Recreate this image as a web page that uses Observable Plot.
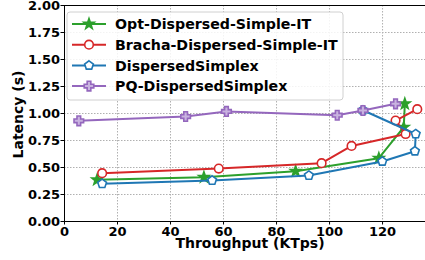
<!DOCTYPE html>
<html>
<head>
<meta charset="utf-8">
<script src="https://cdn.jsdelivr.net/npm/d3@7"></script>
<script src="https://cdn.jsdelivr.net/npm/@observablehq/plot@0.6"></script>
<style>
  html, body { margin: 0; padding: 0; background: white; }
</style>
</head>
<body>
<div id="chart"></div>
<script>
// ---- data ----
const seriesNames = ["Opt-Dispersed-Simple-IT", "Bracha-Dispersed-Simple-IT", "DispersedSimplex", "PQ-DispersedSimplex"];
const seriesColors = ["#2ca02c", "#d62728", "#1f77b4", "#9467bd"];

const optX = [12.3, 52.6, 87.2, 118.6, 128.0, 128.4];
const optY = [0.386, 0.41, 0.466, 0.586, 0.873, 1.09];

const brachaX = [14.2, 58.2, 97.0, 108.3, 128.7, 124.9, 133.1];
const brachaY = [0.447, 0.49, 0.54, 0.70, 0.81, 0.935, 1.04];

const dsX = [14.2, 55.7, 92.2, 119.9, 132.2, 132.5, 112.6];
const dsY = [0.349, 0.38, 0.426, 0.556, 0.651, 0.81, 1.03];

const pqX = [5.4, 45.7, 61.1, 102.9, 112.6, 124.9];
const pqY = [0.932, 0.972, 1.019, 0.984, 1.028, 1.09];

const xTicks = [0, 20, 40, 60, 80, 100, 120];
const yTicks = [0, 0.25, 0.5, 0.75, 1.0, 1.25, 1.5, 1.75, 2.0];

// ---- custom marker shapes ----
const starSym = {
  draw(ctx, size) {
    const R = Math.sqrt(size / Math.PI), r = R * 0.4;
    for (let i = 0; i < 10; i++) {
      const a = -Math.PI / 2 + i * Math.PI / 5, rr = i % 2 ? r : R;
      const x = rr * Math.cos(a), y = rr * Math.sin(a);
      i ? ctx.lineTo(x, y) : ctx.moveTo(x, y);
    }
    ctx.closePath();
  }
};
const pentSym = {
  draw(ctx, size) {
    const R = Math.sqrt(size / Math.PI);
    for (let i = 0; i < 5; i++) {
      const a = -Math.PI / 2 + i * 2 * Math.PI / 5;
      const x = R * Math.cos(a), y = R * Math.sin(a);
      i ? ctx.lineTo(x, y) : ctx.moveTo(x, y);
    }
    ctx.closePath();
  }
};
const plusSym = {
  draw(ctx, size) {
    const R = Math.sqrt(size / Math.PI), w = R * 0.38;
    const pts = [[-w,-R],[w,-R],[w,-w],[R,-w],[R,w],[w,w],[w,R],[-w,R],[-w,w],[-R,w],[-R,-w],[-w,-w]];
    pts.forEach(([x, y], i) => i ? ctx.lineTo(x, y) : ctx.moveTo(x, y));
    ctx.closePath();
  }
};
const circSym = {
  draw(ctx, size) {
    const R = Math.sqrt(size / Math.PI);
    ctx.moveTo(R, 0);
    ctx.arc(0, 0, R, 0, 2 * Math.PI);
  }
};

const xs = [optX, brachaX, dsX, pqX];
const ys = [optY, brachaY, dsY, pqY];
const syms = [starSym, circSym, pentSym, plusSym];
const rs = [5.5, 4.3, 4.6, 4.8];
const fills = [seriesColors[0], "white", "white", "#c9b3e0"];

const series = seriesNames.map((name, k) =>
  xs[k].map((x, i) => ({name, x, y: ys[k][i]})));

const marks = [
  Plot.gridX(xTicks, {stroke: "#b0b0b0", strokeOpacity: 1, strokeDasharray: "1.5,1.5"}),
  Plot.gridY(yTicks, {stroke: "#b0b0b0", strokeOpacity: 1, strokeDasharray: "1.5,1.5"}),
  Plot.axisX(xTicks, {tickSize: 3.5, tickPadding: 2, label: null, fontWeight: "bold", fontSize: 13}),
  Plot.axisY(yTicks, {tickSize: 3.5, tickPadding: 1, label: null, tickFormat: d3.format(".2f"), fontWeight: "bold", fontSize: 13}),
  Plot.ruleX([0], {stroke: "black", strokeWidth: 1}),
  Plot.ruleY([0, 2], {stroke: "black", strokeWidth: 1})
];
series.forEach((data, k) => {
  marks.push(Plot.line(data, {x: "x", y: "y", stroke: seriesColors[k], strokeWidth: 2}));
  marks.push(Plot.dot(data, {x: "x", y: "y", symbol: syms[k], r: rs[k], stroke: seriesColors[k], strokeWidth: 1.6, fill: fills[k]}));
});

const plot = Plot.plot({
  width: 425,
  height: 260,
  marginLeft: 64,
  marginRight: 0,
  marginTop: 5,
  marginBottom: 39,
  style: {fontFamily: "DejaVu Sans", fontSize: "13px", fontWeight: "bold", color: "black", background: "white", overflow: "hidden"},
  x: {domain: [0, 136.2], axis: null},
  y: {domain: [0, 2], axis: null},
  marks
});

const svg = d3.select(plot);
// axis titles
svg.append("text").attr("x", 250).attr("y", 248)
  .attr("text-anchor", "middle").attr("font-size", 14).attr("font-weight", "bold")
  .attr("fill", "black").text("Throughput (KTps)");
svg.append("text").attr("transform", "translate(23,114.5) rotate(-90)")
  .attr("text-anchor", "middle").attr("font-size", 14).attr("font-weight", "bold")
  .attr("fill", "black").text("Latency (s)");

// legend
const lg = svg.append("g");
lg.append("rect").attr("x", 67).attr("y", 12).attr("width", 276).attr("height", 88)
  .attr("rx", 3).attr("fill", "white").attr("fill-opacity", 0.85).attr("stroke", "#d0d0d0");
seriesNames.forEach((name, k) => {
  const cy = 24 + k * 20.7;
  lg.append("line").attr("x1", 72).attr("x2", 106).attr("y1", cy).attr("y2", cy)
    .attr("stroke", seriesColors[k]).attr("stroke-width", 2);
  lg.append("path").attr("transform", `translate(89,${cy})`)
    .attr("d", d3.symbol(syms[k], rs[k] * rs[k] * Math.PI)())
    .attr("fill", fills[k]).attr("stroke", seriesColors[k]).attr("stroke-width", 1.6);
  lg.append("text").attr("x", 115).attr("y", cy).attr("dy", "0.36em")
    .attr("text-anchor", "start")
    .attr("font-size", 14.2).attr("font-weight", "bold").attr("fill", "black").text(name);
});

document.getElementById("chart").appendChild(plot);
</script>
</body>
</html>
